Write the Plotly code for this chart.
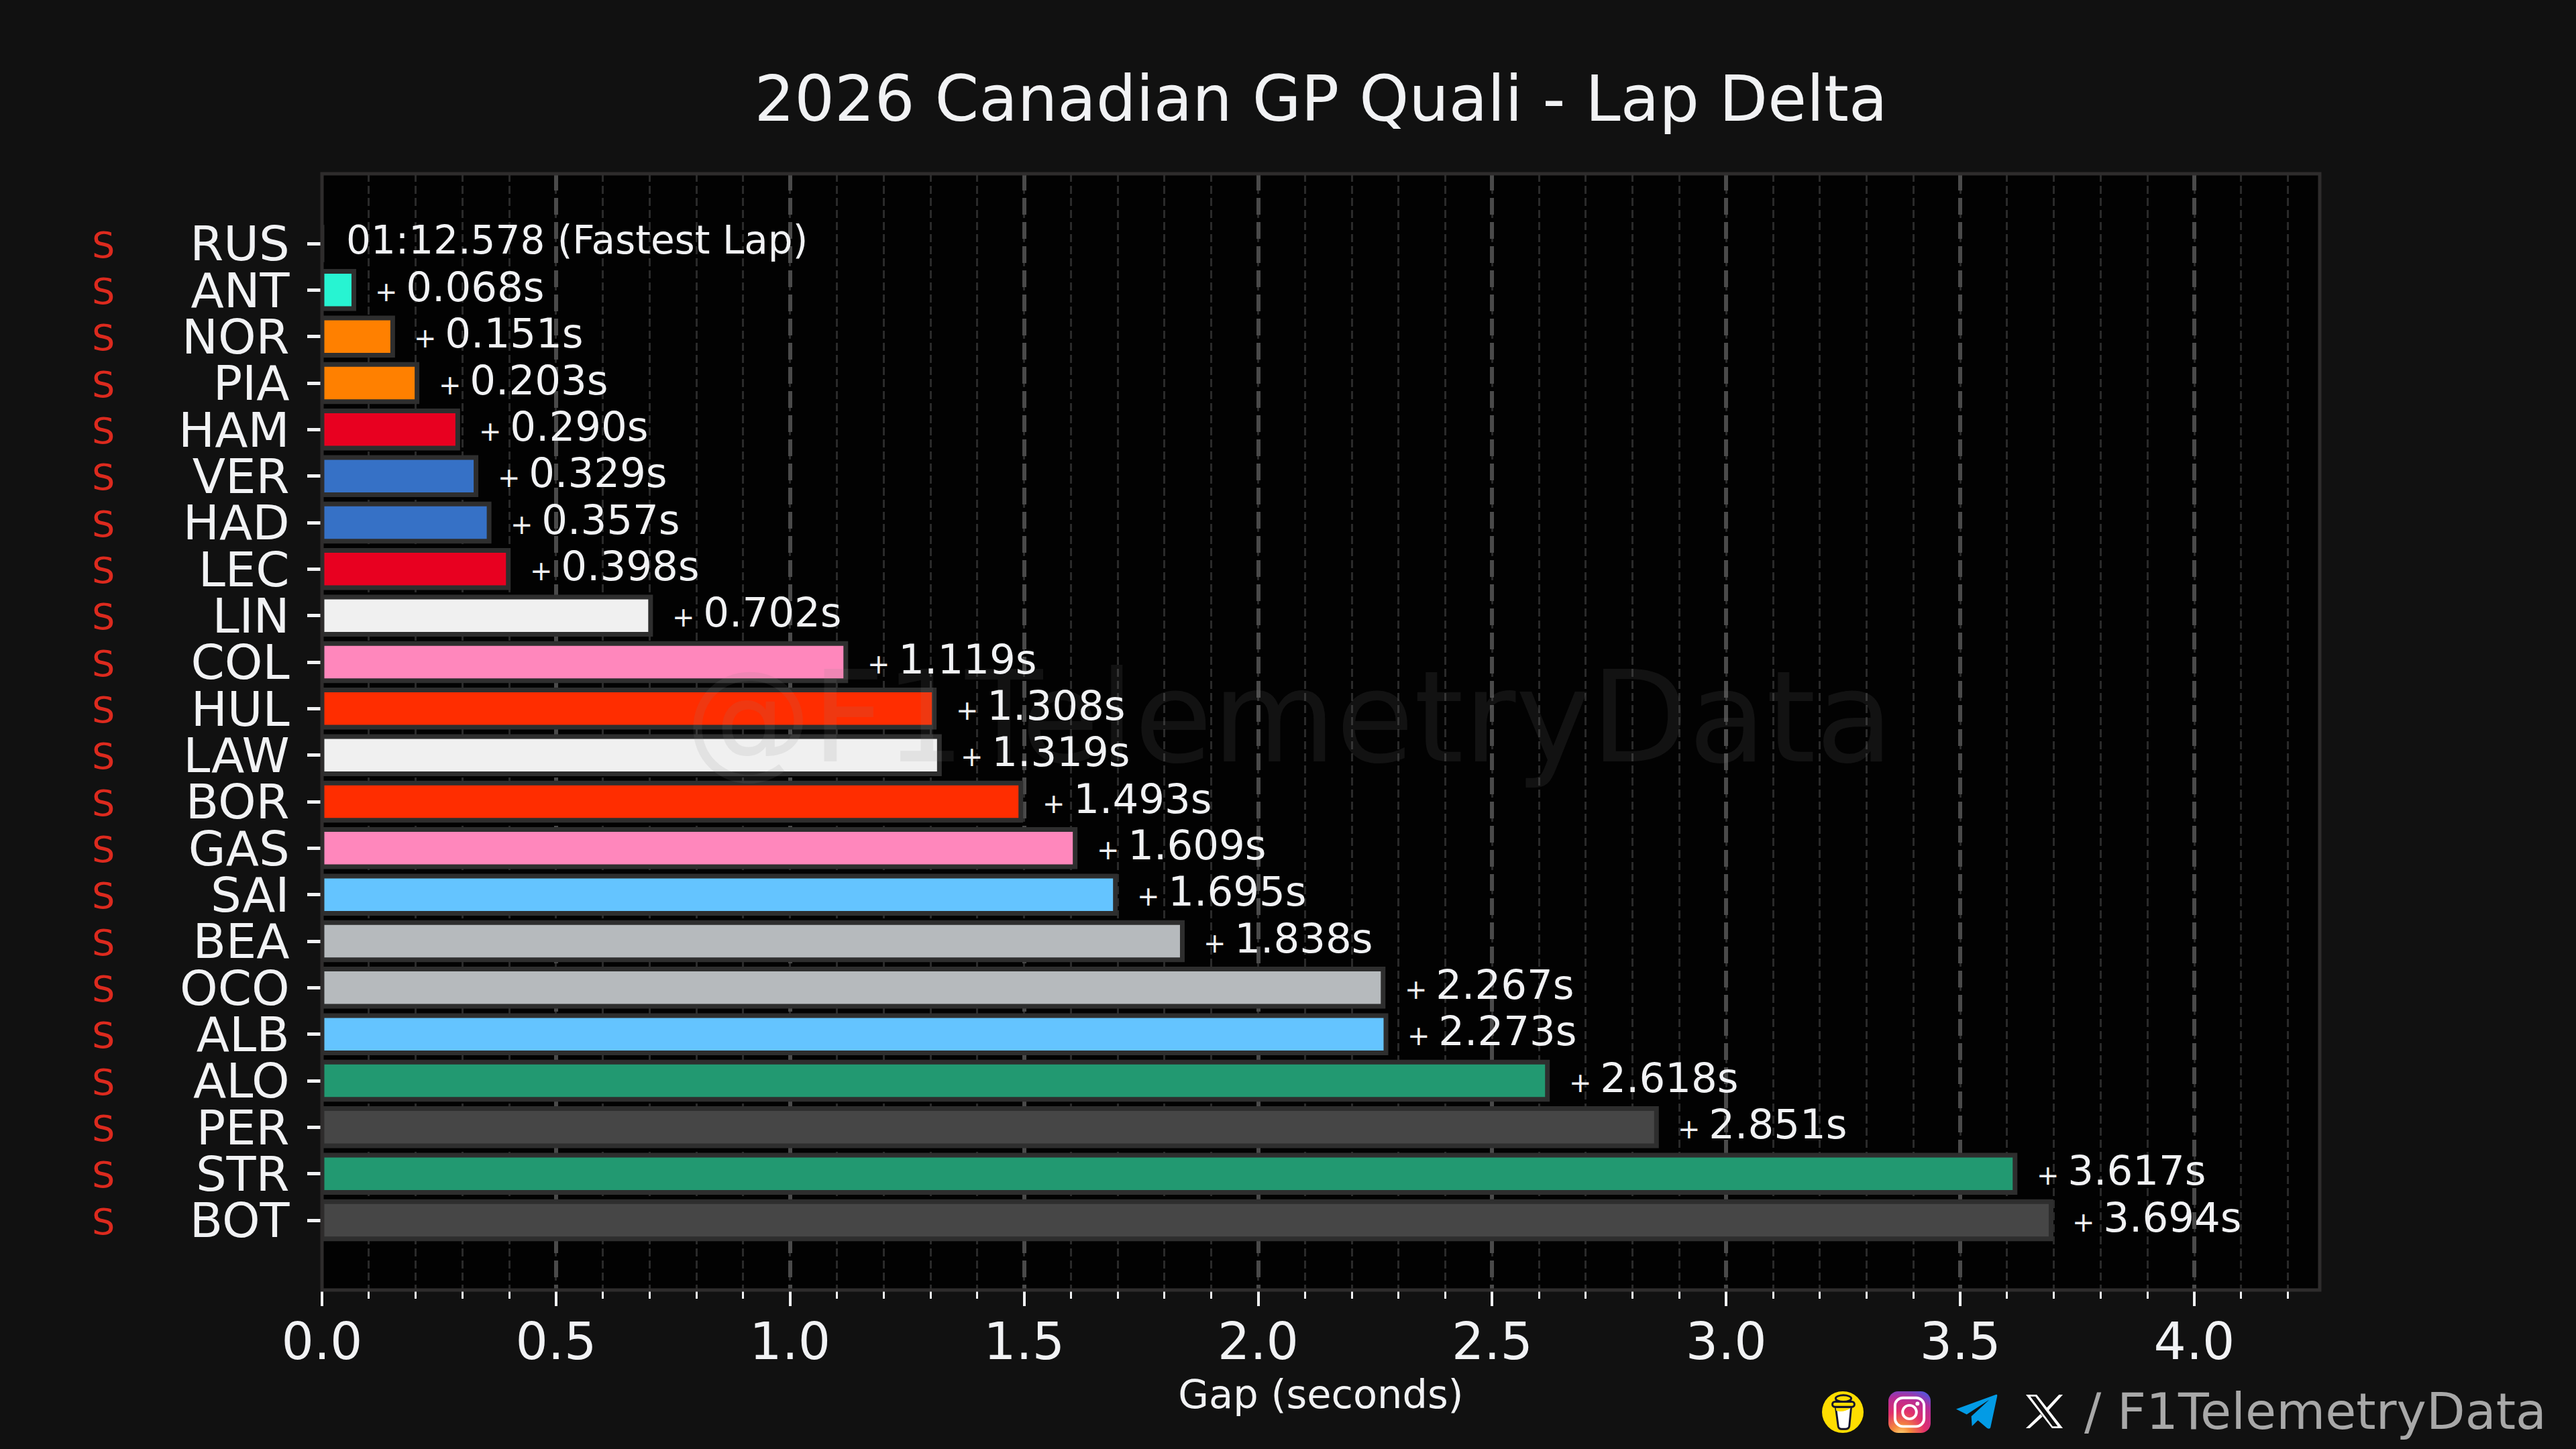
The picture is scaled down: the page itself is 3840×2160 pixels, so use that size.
import base64
import plotly.graph_objects as go

drivers = ["RUS", "ANT", "NOR", "PIA", "HAM", "VER", "HAD", "LEC", "LIN", "COL", "HUL",
           "LAW", "BOR", "GAS", "SAI", "BEA", "OCO", "ALB", "ALO", "PER", "STR", "BOT"]
gaps = [0.0, 0.068, 0.151, 0.203, 0.290, 0.329, 0.357, 0.398, 0.702, 1.119, 1.308,
        1.319, 1.493, 1.609, 1.695, 1.838, 2.267, 2.273, 2.618, 2.851, 3.617, 3.694]
bar_colors = ["#27F4D2", "#27F4D2", "#FF8000", "#FF8000", "#E80020", "#3671C6", "#3671C6", "#E80020",
              "#F0F0F0", "#FF87BC", "#FF2D00", "#F0F0F0", "#FF2D00", "#FF87BC", "#64C4FF", "#B6BABD",
              "#B6BABD", "#64C4FF", "#229971", "#464646", "#229971", "#464646"]
compounds = ["S"] * 22
fastest_lap = "01:12.578 (Fastest Lap)"
x_ticks = [0.0, 0.5, 1.0, 1.5, 2.0, 2.5, 3.0, 3.5, 4.0]

W, H = 3840, 2160
L, R, T, B = 480, 3458, 259, 1923
FONT = "DejaVu Sans"
INK = "#F1F2F4"
EDGE = "#2E2C2C"


def px(x):
    return (x - L) / (R - L)


def py(y):
    return (B - y) / (B - T)


def svg_uri(svg):
    return "data:image/svg+xml;base64," + base64.b64encode(svg.encode()).decode()


coffee_svg = """<svg xmlns="http://www.w3.org/2000/svg" viewBox="0 0 64 64">
<circle cx="32" cy="32" r="32" fill="#FFDD00"/>
<path d="M21 24 L25 54 Q26 58 30 58 L36 58 Q41 58 42 54 L45 24 Z" fill="#FFFFFF" stroke="#14142B" stroke-width="3"/>
<path d="M22 30 Q33 33 44 26 L45 24 L21 24 Z" fill="#FFDD00"/>
<path d="M21 24 L45 24" stroke="#14142B" stroke-width="3"/>
<rect x="16" y="16" width="34" height="8" rx="4" fill="#FFDD00" stroke="#14142B" stroke-width="3"/>
<ellipse cx="33" cy="11" rx="12" ry="5" fill="#FFDD00" stroke="#14142B" stroke-width="3"/>
</svg>"""

insta_svg = """<svg xmlns="http://www.w3.org/2000/svg" viewBox="0 0 64 64">
<defs><radialGradient id="g" cx="0.3" cy="1.05" r="1.15">
<stop offset="0" stop-color="#FFD776"/><stop offset="0.2" stop-color="#F58A3C"/>
<stop offset="0.5" stop-color="#E1306C"/><stop offset="0.8" stop-color="#B42E9A"/>
<stop offset="1" stop-color="#5B51D8"/></radialGradient></defs>
<rect width="64" height="64" rx="15" fill="url(#g)"/>
<rect x="10" y="10" width="44" height="44" rx="12" fill="none" stroke="#FFFFFF" stroke-width="4"/>
<circle cx="32" cy="32" r="10.5" fill="none" stroke="#FFFFFF" stroke-width="4"/>
<circle cx="44" cy="19" r="3" fill="#FFFFFF"/>
</svg>"""

telegram_svg = """<svg xmlns="http://www.w3.org/2000/svg" viewBox="0 0 64 54">
<path d="M1 23 L61 1 Q64 0 63 4 L53 51 Q52 54 48 52 L34 40 L25 49 L24 34 L51 9 L17 31 Z" fill="#039BE5"/>
</svg>"""

x_svg = """<svg xmlns="http://www.w3.org/2000/svg" viewBox="0 0 60 54">
<path d="M1 1 H18 L59 53 H42 Z M8 4 L43 50 H51 L16 4 Z" fill="#FFFFFF" fill-rule="evenodd"/>
<path d="M53 1 H59 L36 26 L33 22 Z M24 31 L27 35 L7 53 H1 Z" fill="#FFFFFF"/>
</svg>"""

fig = go.Figure(go.Bar(
    x=gaps,
    y=drivers,
    orientation="h",
    width=0.8,
    marker=dict(color=bar_colors, line=dict(color="#2E2E2E", width=7)),
    hoverinfo="skip",
))

annotations = [dict(
    text="@F1TelemetryData", xref="paper", yref="paper", x=px(1922), y=py(1070),
    xanchor="center", yanchor="middle", showarrow=False,
    font=dict(family=FONT, size=189, color="rgba(128,128,128,0.13)"),
)]
for name, gap, comp in zip(drivers, gaps, compounds):
    annotations.append(dict(
        text=comp, xref="paper", yref="y", x=px(154), y=name, yshift=-2,
        xanchor="center", yanchor="middle", showarrow=False,
        font=dict(family=FONT, size=54, color="#DC2A1E"),
    ))
    if gap == 0:
        label = fastest_lap
        size = 58
        shift = 34
    else:
        # plus is drawn smaller than the digits
        label = f'<span style="font-size:40px">+ </span>{gap:.3f}s'
        size = 61
        shift = 30
    annotations.append(dict(
        text=label, xref="x", yref="y", x=gap, y=name, xshift=shift, yshift=5,
        xanchor="left", yanchor="middle", showarrow=False,
        font=dict(family=FONT, size=size, color=INK),
    ))

annotations.append(dict(
    text="/ F1TelemetryData", xref="paper", yref="paper", x=px(3798), y=py(2104),
    xanchor="right", yanchor="middle", showarrow=False,
    font=dict(family=FONT, size=75, color="#A8A8A8"),
))

images = []
for svg, x0, x1, y0, y1 in [(coffee_svg, 2716, 2778, 2074, 2136),
                            (insta_svg, 2815, 2878, 2074, 2136),
                            (telegram_svg, 2915, 2978, 2078, 2131),
                            (x_svg, 3019, 3076, 2078, 2130)]:
    images.append(dict(
        source=svg_uri(svg), xref="paper", yref="paper", x=px(x0), y=py(y0),
        sizex=(x1 - x0) / (R - L), sizey=(y1 - y0) / (B - T),
        xanchor="left", yanchor="top", sizing="stretch", layer="above",
    ))

fig.update_layout(
    width=W,
    height=H,
    margin=dict(l=L, r=W - R, t=T, b=H - B, autoexpand=False),
    paper_bgcolor="#111111",
    plot_bgcolor="#020202",
    showlegend=False,
    title=dict(
        text="2026 Canadian GP Quali - Lap Delta",
        font=dict(family=FONT, size=94, color=INK),
        xref="paper", x=0.5, xanchor="center",
        yref="container", y=1 - 147 / H, yanchor="middle",
    ),
    annotations=annotations,
    images=images,
    shapes=[dict(type="rect", xref="paper", yref="paper", x0=0, x1=1, y0=0, y1=1,
                 line=dict(color=EDGE, width=5), layer="above")],
)

fig.update_xaxes(
    range=[0, 4.268],
    tickmode="array",
    tickvals=x_ticks,
    tickformat=".1f",
    tickfont=dict(family=FONT, size=76, color=INK),
    ticks="outside",
    ticklen=23,
    tickwidth=4,
    tickcolor=INK,
    ticklabelstandoff=-12,
    showline=False,
    zeroline=False,
    showgrid=True,
    gridcolor="#4A4A4A",
    gridwidth=6,
    griddash="25px,11px",
    minor=dict(
        tick0=0, dtick=0.1, ticks="outside", ticklen=12, tickwidth=3, tickcolor=INK,
        showgrid=True, gridcolor="#2A2A2A", gridwidth=3, griddash="12px,6px",
    ),
    title=dict(text="Gap (seconds)", font=dict(family=FONT, size=59, color=INK), standoff=10),
)
fig.update_yaxes(
    categoryorder="array",
    categoryarray=drivers,
    tickmode="array",
    tickvals=drivers,
    range=[22.5, -1.5],
    tickfont=dict(family=FONT, size=72, color=INK),
    ticks="outside",
    ticklen=21,
    tickwidth=5,
    tickcolor=INK,
    ticklabelstandoff=12,
    showline=False,
    showgrid=False,
    zeroline=False,
)

fig.write_html("out.html", config=dict(displayModeBar=False),
               post_script="document.body.style.margin='0';")
